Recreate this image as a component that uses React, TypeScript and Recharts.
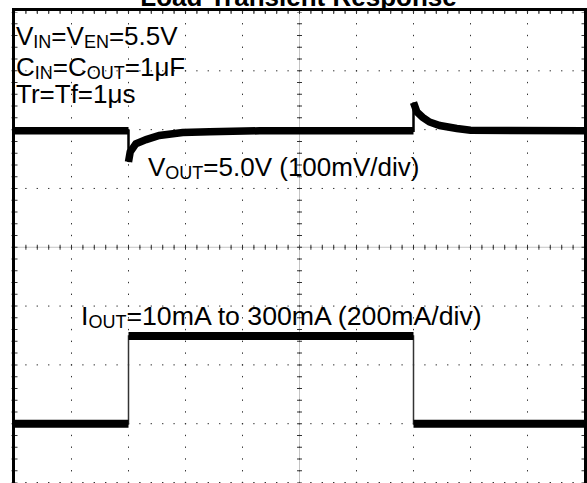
import React from 'react';
import { LineChart, Line, XAxis, YAxis, CartesianGrid, ReferenceLine } from 'recharts';

// axis divisions (oscilloscope graticule): 10 horizontal, 8 vertical
const xTicks = [0, 1, 2, 3, 4, 5, 6, 7, 8, 9, 10];
const yTicks = [0, 1, 2, 3, 4, 5, 6, 7, 8];

// VOUT trace (time in divisions, level in divisions from bottom)
const voutTime = [0, 2.0, 2.0, 2.03, 2.13, 2.31, 2.54, 2.95, 3.42, 4.3, 7.0, 7.0, 7.06, 7.16, 7.28, 7.46, 7.76, 8.0, 10];
const voutDiv = [5.98, 5.98, 5.45, 5.62, 5.76, 5.83, 5.9, 5.95, 5.965, 5.98, 5.98, 6.46, 6.3, 6.21, 6.13, 6.07, 6.02, 5.99, 5.98];

// IOUT trace
const ioutTime = [0, 2.0, 2.0, 7.0, 7.0, 10];
const ioutDiv = [1.0, 1.0, 2.49, 2.49, 1.0, 1.0];

type Pt = { t: number; v: number | null };

const toPoints = (ts: number[], vs: number[]): Pt[] => ts.map((t, i) => ({ t, v: vs[i] }));

// thick horizontal parts: break the path at vertical edges
const thickPoints = (ts: number[], vs: number[]): Pt[] => {
  const out: Pt[] = [];
  ts.forEach((t, i) => {
    if (i > 0 && ts[i - 1] === t) out.push({ t, v: null });
    out.push({ t, v: vs[i] });
  });
  return out;
};

const voutThin = toPoints(voutTime, voutDiv);
const voutThick = thickPoints(voutTime, voutDiv);
const ioutThin = toPoints(ioutTime, ioutDiv);
const ioutThick = thickPoints(ioutTime, ioutDiv);

const FONT = "'Liberation Sans', Arial, Helvetica, sans-serif";
const SUB = 18;

export default function App() {
  return (
    <div
      style={{
        position: 'fixed',
        left: 0,
        top: 0,
        width: 587,
        height: 483,
        overflow: 'hidden',
        background: '#fff',
      }}
    >
      <LineChart width={587} height={500} margin={{ top: 12, right: 2.5, bottom: 17.5, left: 14.5 }}>
        <XAxis dataKey="t" type="number" domain={[0, 10]} ticks={xTicks} hide allowDataOverflow />
        <YAxis type="number" domain={[0, 8]} ticks={yTicks} hide allowDataOverflow />
        <CartesianGrid vertical={false} stroke="#333" strokeDasharray="1.4 10" strokeDashoffset={0.7} />
        <CartesianGrid horizontal={false} stroke="#333" strokeDasharray="1.4 10.3625" strokeDashoffset={0.7} />
        {/* centre lines with minor ticks */}
        <ReferenceLine y={4} stroke="#888" strokeDasharray="1 1" />
        <ReferenceLine y={4} stroke="#333" strokeWidth={5} strokeDasharray="1 10.4" strokeDashoffset={0.5} />
        <ReferenceLine x={5} stroke="#888" strokeDasharray="1 1" />
        <ReferenceLine x={5} stroke="#333" strokeWidth={5} strokeDasharray="1 10.7625" strokeDashoffset={0.5} />
        {/* border minor ticks */}
        <ReferenceLine x={0} stroke="#333" strokeWidth={6} strokeDasharray="1 10.7625" strokeDashoffset={0.5} />
        <ReferenceLine x={10} stroke="#333" strokeWidth={6} strokeDasharray="1 10.7625" strokeDashoffset={0.5} />
        <ReferenceLine y={8} stroke="#333" strokeWidth={4} strokeDasharray="1 10.4" strokeDashoffset={0.5} />

        <Line data={ioutThin} dataKey="v" type="linear" stroke="#333" strokeWidth={1.5} dot={false} activeDot={false} isAnimationActive={false} />
        <Line data={ioutThick} dataKey="v" type="linear" stroke="#000" strokeWidth={8} dot={false} activeDot={false} isAnimationActive={false} />
        <Line data={voutThin} dataKey="v" type="linear" stroke="#000" strokeWidth={2.5} dot={false} activeDot={false} isAnimationActive={false} />
        <Line data={voutThick} dataKey="v" type="linear" stroke="#000" strokeWidth={7.5} dot={false} activeDot={false} isAnimationActive={false} />
      </LineChart>

      <div
        style={{
          position: 'absolute',
          left: 12,
          top: 8,
          width: 575,
          height: 520,
          border: '3px solid #000',
          boxSizing: 'border-box',
          pointerEvents: 'none',
        }}
      />

      <svg
        width={587}
        height={483}
        style={{ position: 'absolute', left: 0, top: 0, pointerEvents: 'none' }}
        fontFamily={FONT}
        fill="#000"
      >
        <text x={298.5} y={6} textAnchor="middle" fontSize={26} fontWeight="bold">
          Load Transient Response
        </text>
        <text x={16} y={45} fontSize={26}>
          V<tspan fontSize={SUB} dy={3}>IN</tspan>
          <tspan dy={-3}>=V</tspan>
          <tspan fontSize={SUB} dy={3}>EN</tspan>
          <tspan dy={-3}>=5.5V</tspan>
        </text>
        <text x={16} y={76} fontSize={26}>
          C<tspan fontSize={SUB} dy={3}>IN</tspan>
          <tspan dy={-3}>=C</tspan>
          <tspan fontSize={SUB} dy={3}>OUT</tspan>
          <tspan dy={-3}>=1μF</tspan>
        </text>
        <text x={16} y={103} fontSize={26}>
          Tr=Tf=1μs
        </text>
        <text x={148} y={176} fontSize={26}>
          V<tspan fontSize={SUB} dy={3}>OUT</tspan>
          <tspan dy={-3}>=5.0V (100mV/div)</tspan>
        </text>
        <text x={81} y={325} fontSize={26.7}>
          I<tspan fontSize={SUB} dy={3}>OUT</tspan>
          <tspan dy={-3}>=10mA to 300mA (200mA/div)</tspan>
        </text>
      </svg>
    </div>
  );
}
